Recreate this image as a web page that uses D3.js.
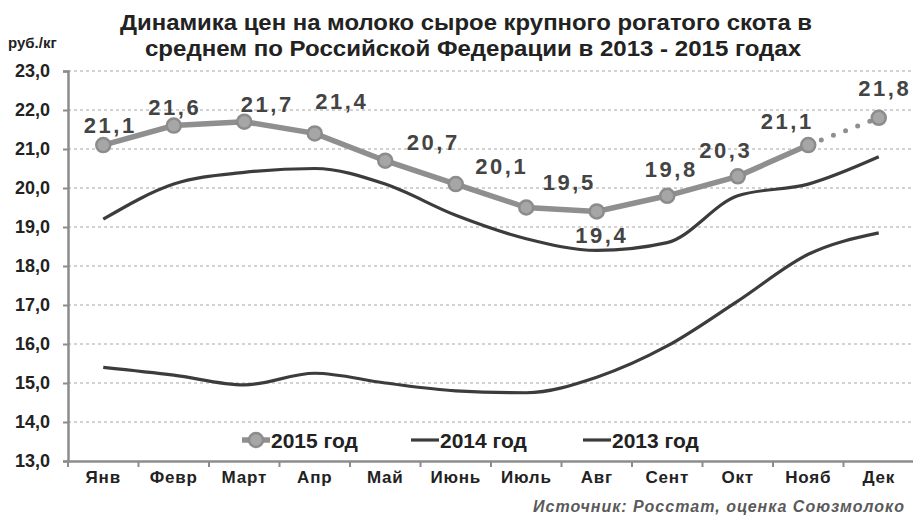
<!DOCTYPE html>
<html>
<head>
<meta charset="utf-8">
<script src="https://cdn.jsdelivr.net/npm/d3@7"></script>
<style>
  body { margin: 0; background: #fff; }
  svg { display: block; }
  text { font-family: "Liberation Sans", Arial, sans-serif; font-weight: bold; }
</style>
</head>
<body>
<div class="chart"></div>
<script>
// months along the bottom
var months = ['Янв', 'Февр', 'Март', 'Апр', 'Май', 'Июнь', 'Июль', 'Авг', 'Сент', 'Окт', 'Нояб', 'Дек'];
// prices, rub/kg
var y2015 = [21.1, 21.6, 21.7, 21.4, 20.7, 20.1, 19.5, 19.4, 19.8, 20.3, 21.1, 21.8];
var y2014 = [19.2, 20.1, 20.4, 20.5, 20.1, 19.3, 18.7, 18.4, 18.6, 19.8, 20.1, 20.8];
var y2013 = [15.4, 15.2, 14.95, 15.25, 15.0, 14.8, 14.75, 15.15, 15.95, 17.1, 18.3, 18.85];
var yTicks = [13, 14, 15, 16, 17, 18, 19, 20, 21, 22, 23];
var legendNames = ['2015 год', '2014 год', '2013 год'];

// where each 2015 value label sits relative to its point
var labelShift = [[6, -12], [0, -11], [22, -10], [26, -24], [47, -11], [45, -10], [42, -18], [4, 32], [3, -19], [-13, -18], [-22, -16], [5, -22]];

var W = 913, H = 520;
var svg = d3.select('.chart').append('svg')
  .attr('width', W)
  .attr('height', H);

var x = d3.scaleBand().domain(months).range([68, 914]).padding(0);
var y = d3.scaleLinear().domain([13, 23]).range([461, 71]);
var cx = function(i) { return x(months[i]) + x.bandwidth() / 2; };

// title
svg.append('text')
  .attr('x', 120).attr('y', 30)
  .attr('textLength', 692)
  .attr('lengthAdjust', 'spacingAndGlyphs')
  .style('font-size', '22px')
  .style('fill', '#222')
  .text('Динамика цен на молоко сырое крупного рогатого скота в');
svg.append('text')
  .attr('x', 145).attr('y', 56)
  .attr('textLength', 656)
  .attr('lengthAdjust', 'spacingAndGlyphs')
  .style('font-size', '22px')
  .style('fill', '#222')
  .text('среднем по Российской Федерации  в 2013 - 2015 годах');

svg.append('text')
  .attr('x', 8).attr('y', 48)
  .style('font-size', '15px')
  .style('fill', '#222')
  .text('руб./кг');

// grid
svg.append('g').selectAll('line')
  .data(yTicks.slice(1))
  .enter().append('line')
  .attr('x1', 68).attr('x2', 913)
  .attr('y1', function(d) { return y(d); })
  .attr('y2', function(d) { return y(d); })
  .style('stroke', '#c4c4c4')
  .style('stroke-width', 1.3)
  .style('stroke-dasharray', '3,3');

// y axis
var yAxis = svg.append('g')
  .attr('transform', 'translate(68,0)')
  .call(d3.axisLeft(y).tickValues(yTicks).tickSize(5).tickPadding(13)
    .tickFormat(function(d) { return d3.format('.1f')(d).replace('.', ','); }));
yAxis.select('.domain').style('stroke', '#8c8c8c').style('stroke-width', 2.5);
yAxis.selectAll('.tick line').style('stroke', '#8c8c8c').style('stroke-width', 2);
yAxis.selectAll('text')
  .style('font-size', '18px').style('fill', '#222');

// x axis
var xAxis = svg.append('g')
  .attr('transform', 'translate(0,461)')
  .call(d3.axisBottom(x).tickSize(0).tickPadding(10));
xAxis.select('.domain').style('stroke', '#8c8c8c').style('stroke-width', 2.5);
xAxis.selectAll('text').style('font-size', '17px').style('letter-spacing', '0.8px').style('fill', '#222');
xAxis.append('g').selectAll('line')
  .data(months)
  .enter().append('line')
  .attr('x1', function(d) { return x(d); })
  .attr('x2', function(d) { return x(d); })
  .attr('y1', 0).attr('y2', 6)
  .style('stroke', '#8c8c8c').style('stroke-width', 2);

// 2013 & 2014 lines
var line = function(curve) {
  return d3.line()
    .x(function(d, i) { return cx(i); })
    .y(function(d) { return y(d); })
    .curve(curve);
};
svg.append('path').datum(y2013)
  .attr('d', line(d3.curveMonotoneX))
  .style('fill', 'none').style('stroke', '#3c3c3c').style('stroke-width', 3.2);
svg.append('path').datum(y2014)
  .attr('d', line(d3.curveMonotoneX))
  .style('fill', 'none').style('stroke', '#3c3c3c').style('stroke-width', 3.2);

// 2015 line, last segment dotted
svg.append('path').datum(y2015.slice(0, 11))
  .attr('d', line(d3.curveLinear))
  .style('fill', 'none').style('stroke', '#8f8f8f').style('stroke-width', 5.5);
svg.append('line')
  .attr('x1', cx(10)).attr('y1', y(y2015[10]))
  .attr('x2', cx(11)).attr('y2', y(y2015[11]))
  .style('stroke', '#8f8f8f').style('stroke-width', 5)
  .style('stroke-linecap', 'round')
  .style('stroke-dasharray', '0,13')
  .style('stroke-dashoffset', -14);

svg.append('g').selectAll('circle')
  .data(y2015)
  .enter().append('circle')
  .attr('cx', function(d, i) { return cx(i); })
  .attr('cy', function(d) { return y(d); })
  .attr('r', 7)
  .style('fill', '#a6a6a6')
  .style('stroke', '#8c8c8c')
  .style('stroke-width', 2.5);

svg.append('g').selectAll('text')
  .data(y2015)
  .enter().append('text')
  .attr('x', function(d, i) { return cx(i) + labelShift[i][0] + 1; })
  .attr('y', function(d, i) { return y(d) + labelShift[i][1]; })
  .attr('text-anchor', 'middle')
  .style('font-size', '22px')
  .style('letter-spacing', '2.5px')
  .style('fill', '#444')
  .text(function(d) { return d3.format('.1f')(d).replace('.', ','); });

// legend
var legendX = [242, 411, 583];
var leg = svg.append('g').selectAll('g')
  .data(legendNames)
  .enter().append('g')
  .attr('transform', function(d, i) { return 'translate(' + legendX[i] + ',440)'; });
leg.append('line')
  .attr('x1', 0).attr('x2', 28).attr('y1', 0).attr('y2', 0)
  .style('stroke', function(d, i) { return i === 0 ? '#8f8f8f' : '#3c3c3c'; })
  .style('stroke-width', function(d, i) { return i === 0 ? 5.5 : 3.2; });
leg.filter(function(d, i) { return i === 0; }).append('circle')
  .attr('cx', 14).attr('cy', 0).attr('r', 7)
  .style('fill', '#a6a6a6').style('stroke', '#8c8c8c').style('stroke-width', 2.5);
leg.append('text')
  .attr('x', 29).attr('y', 8)
  .style('font-size', '21px')
  .style('fill', '#222')
  .text(function(d) { return d; });

// source
svg.append('text')
  .attr('x', 905).attr('y', 512)
  .attr('text-anchor', 'end')
  .style('font-size', '16px')
  .style('letter-spacing', '1px')
  .style('font-style', 'italic')
  .style('fill', '#5a5a5a')
  .text('Источник: Росстат, оценка Союзмолоко');
</script>
</body>
</html>
